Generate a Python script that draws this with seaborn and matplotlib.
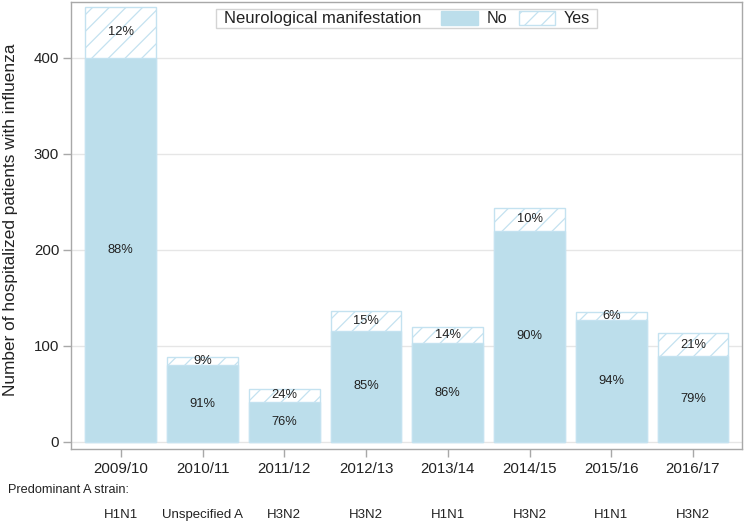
import matplotlib
matplotlib.use("Agg")
import matplotlib.pyplot as plt
import matplotlib.transforms as mtransforms
import pandas as pd
import seaborn as sns
from matplotlib.patches import Patch
from matplotlib.offsetbox import HPacker, DrawingArea

# Hospitalized influenza patients per season, split by neurological manifestation

seasons = ['2009/10', '2010/11', '2011/12', '2012/13', '2013/14', '2014/15', '2015/16', '2016/17']
strains = ['H1N1', 'Unspecified A', 'H3N2', 'H3N2', 'H1N1', 'H3N2', 'H1N1', 'H3N2']
no_counts = [400, 80, 42, 116, 103, 220, 127, 89]
yes_counts = [53, 8, 13, 20, 17, 24, 8, 24]

df = pd.DataFrame({'season': seasons, 'No': no_counts, 'Yes': yes_counts})
df['total'] = df['No'] + df['Yes']

sns.set_style('white')
plt.rcParams['font.family'] = ['Liberation Sans', 'DejaVu Sans']
plt.rcParams['hatch.linewidth'] = 0.9

bar_fill = '#bcdeeb'
bar_edge = '#c4e2f0'
text_col = '#222222'
frame_col = '#a8a8a8'

fig = plt.figure(figsize=(7.45, 5.32), dpi=100)
ax = fig.add_axes([0.0953, 0.1555, 0.9007, 0.8407])

# totals drawn hatched, then the "No" part on top of them
sns.barplot(data=df, x='season', y='total', color='white', saturation=1,
            edgecolor=bar_edge, hatch='//', linewidth=1, width=0.866,
            errorbar=None, ax=ax)
sns.barplot(data=df, x='season', y='No', color=bar_fill, saturation=1,
            edgecolor=bar_edge, linewidth=1, width=0.866,
            errorbar=None, ax=ax)

for i, row in df.iterrows():
    p_no = round(100 * row['No'] / row['total'])
    p_yes = 100 - p_no
    ax.text(i, row['No'] / 2, f'{p_no}%', ha='center', va='center',
            fontsize=9.3, color=text_col)
    ax.text(i, row['No'] + row['Yes'] / 2, f'{p_yes}%', ha='center',
            va='center', fontsize=9.3, color=text_col)

ax.set_xlim(-0.61, 7.6)
ax.set_ylim(-7.6, 458)
ax.set_yticks([0, 100, 200, 300, 400])
ax.yaxis.grid(True, color='#e6e6e6', linewidth=1)
ax.set_axisbelow(True)
ax.set_xlabel('')
ax.set_ylabel('Number of hospitalized patients with influenza',
              fontsize=12.4, color=text_col)
ax.yaxis.set_label_coords(-0.079, 0.5126)
ax.tick_params(axis='both', which='both', direction='out', length=6,
               width=1, color=frame_col, labelsize=10.8, labelcolor=text_col,
               bottom=True, left=True)
ax.tick_params(axis='y', pad=2.5)
for s in ax.spines.values():
    s.set_color(frame_col)
    s.set_linewidth(1)

# strain row under the season labels
trans = mtransforms.blended_transform_factory(ax.transData, fig.transFigure)
for i, st in enumerate(strains):
    ax.text(i, 1 - 515 / 532, st, transform=trans, ha='center', va='center',
            fontsize=9.5, color=text_col)
fig.text(0.011, 1 - 490 / 532, 'Predominant A strain:', ha='left', va='center',
         fontsize=9.2, color=text_col)

handles = [Patch(facecolor=bar_fill, edgecolor=bar_fill, label='No'),
           Patch(facecolor='white', edgecolor=bar_edge, hatch='//', label='Yes')]
leg = ax.legend(handles=handles, ncol=2, title='Neurological manifestation',
                loc='center', bbox_to_anchor=(0.5, 0.963),
                fontsize=11.6, title_fontsize=12, frameon=True, fancybox=False,
                edgecolor='#d4d4d4', framealpha=1, borderpad=0.1,
                handlelength=2.25, handleheight=0.95, handletextpad=0.55,
                columnspacing=0.72, borderaxespad=0)
leg.get_frame().set_linewidth(1)
for t in leg.get_texts():
    t.set_color(text_col)
leg.get_title().set_color(text_col)

# put the legend title on the same row as the entries
old_box = leg._legend_box
leg._legend_box = HPacker(pad=old_box.pad, sep=0, align='center',
                          children=[DrawingArea(5, 1), leg._legend_title_box,
                                    DrawingArea(14, 1), leg._legend_handle_box,
                                    DrawingArea(4, 1)])
leg._legend_box.set_figure(fig)
leg._legend_box.axes = ax
leg._legend_box.set_offset(leg._findoffset)

fig.savefig('out.png', dpi=100)
